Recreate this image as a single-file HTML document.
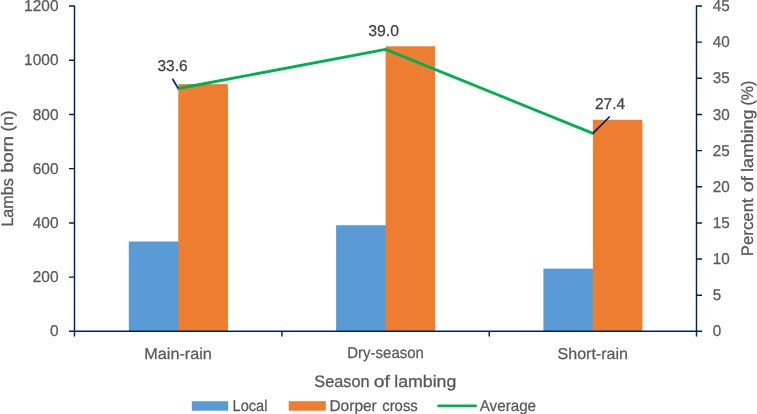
<!DOCTYPE html>
<html>
<head>
<meta charset="utf-8">
<title>Lambs born by season of lambing</title>
<style>
html,body{margin:0;padding:0;background:#fff;}
body{width:757px;height:414px;overflow:hidden;}
svg{display:block;will-change:transform;}
text{font-family:"Liberation Sans",sans-serif;text-rendering:geometricPrecision;}
.tk{font-size:15.7px;fill:#595959;stroke:#595959;stroke-width:0.25px;}
.dl{font-size:15.7px;fill:#404040;stroke:#404040;stroke-width:0.25px;}
.ti{font-size:16.6px;fill:#595959;stroke:#595959;stroke-width:0.3px;}
</style>
</head>
<body>
<svg width="757" height="414" viewBox="0 0 757 414">
<rect x="0" y="0" width="757" height="414" fill="#ffffff"/>

<!-- bars: Local (blue) -->
<g fill="#5B9BD5">
<rect x="128.8" y="241.5" width="50.5" height="89.8"/>
<rect x="336.1" y="225.2" width="50.5" height="106.1"/>
<rect x="543.4" y="268.6" width="50.5" height="62.7"/>
</g>
<!-- bars: Dorper cross (orange) -->
<g fill="#ED7D31">
<rect x="178.3" y="84.1" width="49.6" height="247.2"/>
<rect x="385.6" y="46.3" width="49.5" height="285"/>
<rect x="592.9" y="119.8" width="49.5" height="211.5"/>
</g>

<!-- axes -->
<g stroke="#002060" stroke-width="1.45" fill="none">
<path d="M69 6H74.5V336.6" stroke-linejoin="round"/>
<path d="M69 331.3H696.5"/>
<path d="M702 6H696.5V336.6" stroke-linejoin="round"/>
<path d="M281.9 331.3V336.6M489.25 331.3V336.6"/>
<!-- left ticks -->
<path d="M69 60.2H74.5M69 114.4H74.5M69 168.6H74.5M69 222.9H74.5M69 277.1H74.5"/>
<!-- right ticks -->
<path d="M696.5 42.1H702M696.5 78.3H702M696.5 114.4H702M696.5 150.6H702M696.5 186.7H702M696.5 222.9H702M696.5 259H702M696.5 295.2H702M696.5 331.3H702"/>
</g>

<!-- average line -->
<polyline points="178.3,88.5 385.6,49.4 592.9,133.4" fill="none" stroke="#00B050" stroke-width="2.8" stroke-linejoin="round" stroke-linecap="round"/>

<!-- leader lines -->
<g stroke="#002060" stroke-width="1.7" fill="none">
<path d="M172.4 78.7L178 88.1"/>
<path d="M592.9 133.4L609.8 116.5"/>
</g>

<!-- left tick labels -->
<g class="tk" text-anchor="end">
<text x="58.5" y="11.1" textLength="34.4" lengthAdjust="spacingAndGlyphs">1200</text>
<text x="58.5" y="65.3" textLength="34.4" lengthAdjust="spacingAndGlyphs">1000</text>
<text x="58.5" y="119.5" textLength="25.8" lengthAdjust="spacingAndGlyphs">800</text>
<text x="58.5" y="173.7" textLength="25.8" lengthAdjust="spacingAndGlyphs">600</text>
<text x="58.5" y="228.0" textLength="25.8" lengthAdjust="spacingAndGlyphs">400</text>
<text x="58.5" y="282.2" textLength="25.8" lengthAdjust="spacingAndGlyphs">200</text>
<text x="58.5" y="336.4" textLength="8.6" lengthAdjust="spacingAndGlyphs">0</text>
</g>
<!-- right tick labels -->
<g class="tk" text-anchor="start">
<text x="712.8" y="11.1" textLength="17.0" lengthAdjust="spacingAndGlyphs">45</text>
<text x="712.8" y="47.2" textLength="17.0" lengthAdjust="spacingAndGlyphs">40</text>
<text x="712.8" y="83.4" textLength="17.0" lengthAdjust="spacingAndGlyphs">35</text>
<text x="712.8" y="119.5" textLength="17.0" lengthAdjust="spacingAndGlyphs">30</text>
<text x="712.8" y="155.7" textLength="17.0" lengthAdjust="spacingAndGlyphs">25</text>
<text x="712.8" y="191.8" textLength="17.0" lengthAdjust="spacingAndGlyphs">20</text>
<text x="712.8" y="228.0" textLength="17.0" lengthAdjust="spacingAndGlyphs">15</text>
<text x="712.8" y="264.1" textLength="17.0" lengthAdjust="spacingAndGlyphs">10</text>
<text x="712.8" y="300.3" textLength="8.5" lengthAdjust="spacingAndGlyphs">5</text>
<text x="712.8" y="336.4" textLength="8.5" lengthAdjust="spacingAndGlyphs">0</text>
</g>

<!-- data labels -->
<g class="dl">
<text x="157.5" y="71" textLength="30.1" lengthAdjust="spacingAndGlyphs">33.6</text>
<text x="368.2" y="36" textLength="30.8" lengthAdjust="spacingAndGlyphs">39.0</text>
<text x="595" y="109" textLength="30" lengthAdjust="spacingAndGlyphs">27.4</text>
</g>

<!-- category labels -->
<g class="tk">
<text x="144.3" y="358.5" textLength="67.6" lengthAdjust="spacingAndGlyphs">Main-rain</text>
<text x="347.3" y="358.45" textLength="76.6" lengthAdjust="spacingAndGlyphs">Dry-season</text>
<text x="557.5" y="358.5" textLength="70.5" lengthAdjust="spacingAndGlyphs">Short-rain</text>
</g>

<!-- axis titles -->
<text class="ti" x="314.3" y="386.9" textLength="55.2" lengthAdjust="spacingAndGlyphs">Season</text>
<text class="ti" x="373.7" y="386.9" textLength="16.2" lengthAdjust="spacingAndGlyphs">of</text>
<text class="ti" x="394.3" y="386.9" textLength="62" lengthAdjust="spacingAndGlyphs">lambing</text>
<text class="ti" transform="translate(13.4 226.6) rotate(-90)" textLength="48.4" lengthAdjust="spacingAndGlyphs">Lambs</text>
<text class="ti" transform="translate(13.4 172.6) rotate(-90)" textLength="36.6" lengthAdjust="spacingAndGlyphs">born</text>
<text class="ti" transform="translate(13.4 131.5) rotate(-90)" textLength="21" lengthAdjust="spacingAndGlyphs">(n)</text>
<text class="ti" transform="translate(753.2 256.3) rotate(-90)" textLength="58" lengthAdjust="spacingAndGlyphs">Percent</text>
<text class="ti" transform="translate(753.2 192.2) rotate(-90)" textLength="16.2" lengthAdjust="spacingAndGlyphs">of</text>
<text class="ti" transform="translate(753.2 171.9) rotate(-90)" textLength="62.2" lengthAdjust="spacingAndGlyphs">lambing</text>
<text class="ti" transform="translate(753.2 105.5) rotate(-90)" textLength="24.9" lengthAdjust="spacingAndGlyphs">(%)</text>

<!-- legend -->
<rect x="191.8" y="401.2" width="36.4" height="9.5" fill="#5B9BD5"/>
<text class="tk" x="232.5" y="410.9" textLength="35" lengthAdjust="spacingAndGlyphs">Local</text>
<rect x="288.8" y="401.2" width="37" height="9.5" fill="#ED7D31"/>
<text class="tk" x="329.4" y="410.9" textLength="47.4" lengthAdjust="spacingAndGlyphs">Dorper</text>
<text class="tk" x="382.2" y="410.9" textLength="35.6" lengthAdjust="spacingAndGlyphs">cross</text>
<path d="M438.7 405.9H475.6" stroke="#00B050" stroke-width="2.8" stroke-linecap="round" fill="none"/>
<text class="tk" x="479.7" y="410.8" textLength="56.4" lengthAdjust="spacingAndGlyphs">Average</text>
</svg>
</body>
</html>
